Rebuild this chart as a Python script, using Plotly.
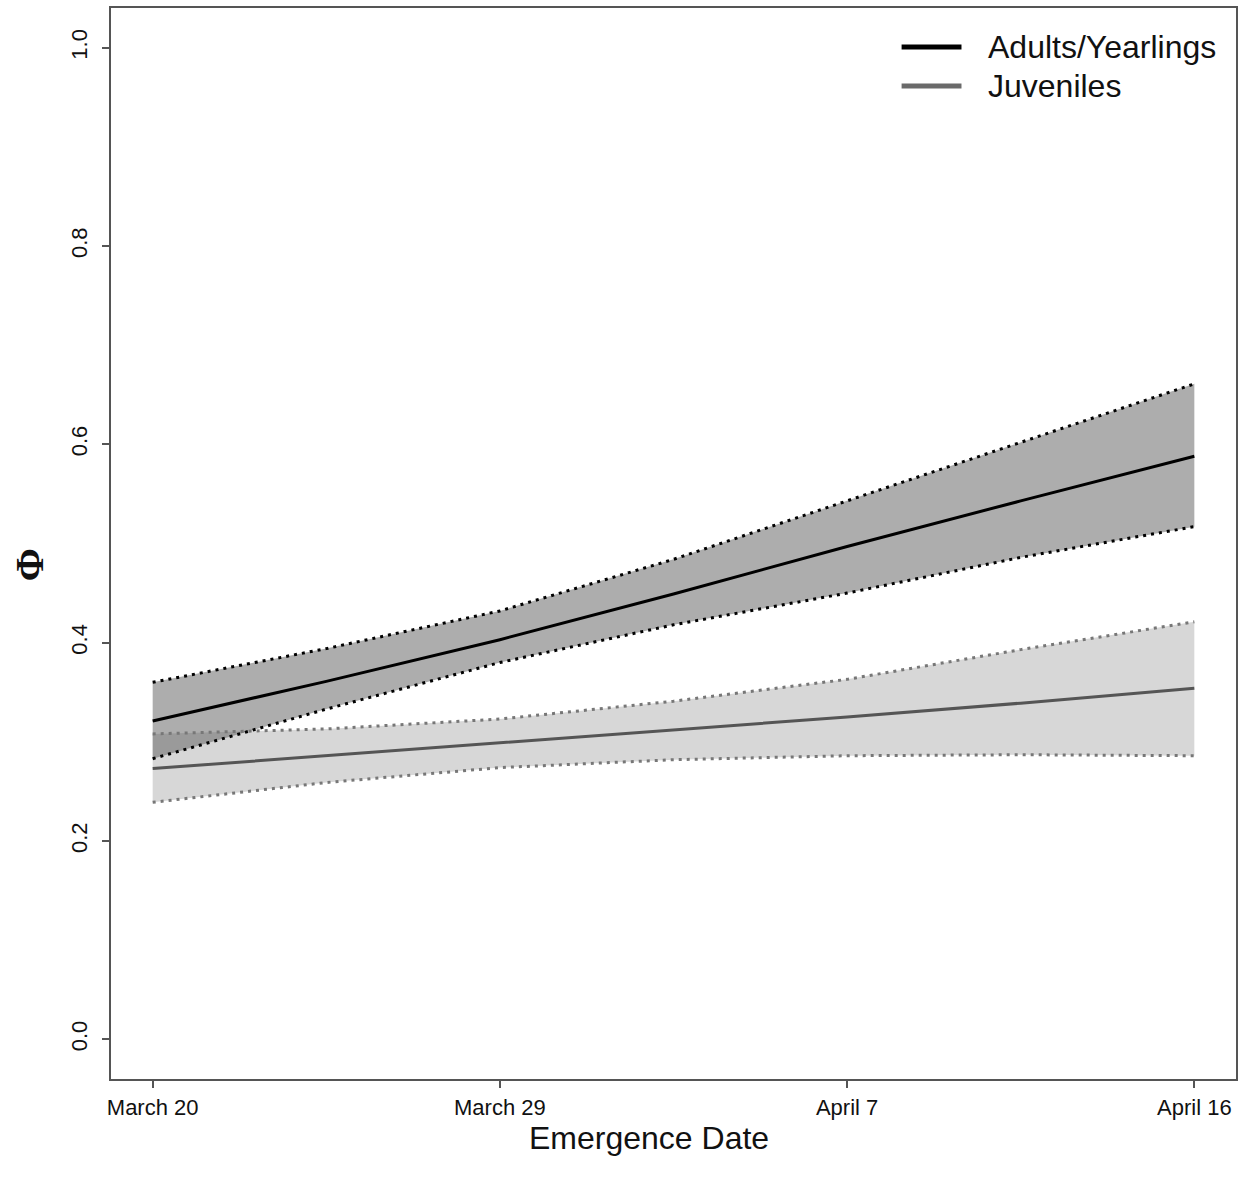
import plotly.graph_objects as go

# Days since March 20 at which the fitted curves are evaluated
days = [0, 4.5, 9, 13.5, 18, 22.5, 27]

# Tick positions and labels for the date axis
date_ticks = [0, 9, 18, 27]
date_labels = ["March 20", "March 29", "April 7", "April 16"]

# Survival estimates (Phi) with 95% confidence bounds
adult_mean = [0.321, 0.361, 0.403, 0.449, 0.497, 0.543, 0.588]
adult_upper = [0.360, 0.394, 0.432, 0.484, 0.543, 0.602, 0.661]
adult_lower = [0.283, 0.333, 0.380, 0.418, 0.450, 0.486, 0.517]

juv_mean = [0.273, 0.286, 0.299, 0.312, 0.325, 0.339, 0.354]
juv_upper = [0.308, 0.313, 0.323, 0.341, 0.363, 0.393, 0.421]
juv_lower = [0.239, 0.259, 0.274, 0.282, 0.286, 0.287, 0.286]

series_names = ["Adults/Yearlings", "Juveniles"]

y_ticks = [0.0, 0.2, 0.4, 0.6, 0.8, 1.0]
y_labels = ["0.0", "0.2", "0.4", "0.6", "0.8", "1.0"]

FONT = "Liberation Sans, Arial, sans-serif"
AXIS_COLOR = "#555555"
L, R, T, B = 111, 5, 8, 109
PW = 1243 - L - R
PH = 1188 - T - B

fig = go.Figure()


def add_band(upper, lower, fill_color):
    # shaded confidence polygon
    fig.add_trace(go.Scatter(
        x=days + days[::-1],
        y=upper + lower[::-1],
        fill="toself",
        fillcolor=fill_color,
        line=dict(width=0),
        mode="lines",
        hoverinfo="skip",
        showlegend=False,
    ))


def add_bounds(upper, lower, edge_color):
    for b in (upper, lower):
        fig.add_trace(go.Scatter(
            x=days, y=b, mode="lines",
            line=dict(color=edge_color, width=3, dash="3px,5px"),
            hoverinfo="skip", showlegend=False,
        ))


# bands first, then dotted bounds, then mean lines
add_band(juv_upper, juv_lower, "#d7d7d7")
add_band(adult_upper, adult_lower, "rgba(97,97,97,0.52)")
add_bounds(juv_upper, juv_lower, "#777777")
add_bounds(adult_upper, adult_lower, "#000000")

fig.add_trace(go.Scatter(x=days, y=juv_mean, mode="lines",
                         line=dict(color="#555555", width=3),
                         name=series_names[1], showlegend=False))
fig.add_trace(go.Scatter(x=days, y=adult_mean, mode="lines",
                         line=dict(color="#000000", width=3),
                         name=series_names[0], showlegend=False))

# legend drawn in the upper-right corner
legend_colors = ["#000000", "#6a6a6a"]
legend_px_y = [47, 86]
shapes = []
annotations = []
for name, col, py in zip(series_names, legend_colors, legend_px_y):
    yy = (1188 - B - py) / PH
    shapes.append(dict(type="line", xref="paper", yref="paper",
                       x0=(903 - L) / PW, x1=(963 - L) / PW,
                       y0=yy, y1=yy, line=dict(color=col, width=5)))
    annotations.append(dict(xref="paper", yref="paper",
                            x=(988 - L) / PW, y=yy,
                            xanchor="left", yanchor="middle",
                            text=name, showarrow=False,
                            font=dict(family=FONT, size=32, color="#111111")))

# axis titles
annotations.append(dict(xref="paper", yref="paper", x=(650 - L) / PW,
                        y=(1188 - B - 1138) / PH, xanchor="center",
                        yanchor="middle", text="Emergence Date",
                        showarrow=False,
                        font=dict(family=FONT, size=32, color="#111111")))
annotations.append(dict(xref="paper", yref="paper", x=(30 - L) / PW,
                        y=(1188 - B - 565) / PH, xanchor="center",
                        yanchor="middle", text="<b>Φ</b>", textangle=-90,
                        showarrow=False,
                        font=dict(family="Liberation Serif, serif", size=40,
                                  color="#111111")))

fig.update_layout(
    width=1243, height=1188,
    margin=dict(l=L, r=R, t=T, b=B),
    paper_bgcolor="white", plot_bgcolor="white",
    shapes=shapes, annotations=annotations,
    showlegend=False,
)

fig.update_xaxes(
    range=[-1.08, 28.08], tickvals=date_ticks, ticktext=date_labels,
    showgrid=False, zeroline=False,
    showline=True, mirror=True, linecolor=AXIS_COLOR, linewidth=1.5,
    ticks="outside", ticklen=7, tickwidth=1.5, tickcolor=AXIS_COLOR,
    ticklabelstandoff=1,
    tickfont=dict(family=FONT, size=22, color="#111111"),
)
fig.update_yaxes(
    range=[-0.04, 1.04], tickvals=y_ticks, ticktext=y_labels,
    tickangle=-90,
    showgrid=False, zeroline=False,
    showline=True, mirror=True, linecolor=AXIS_COLOR, linewidth=1.5,
    ticks="outside", ticklen=7, tickwidth=1.5, tickcolor=AXIS_COLOR,
    ticklabelstandoff=6,
    tickfont=dict(family=FONT, size=22, color="#111111"),
)

fig.write_html("out.html")
